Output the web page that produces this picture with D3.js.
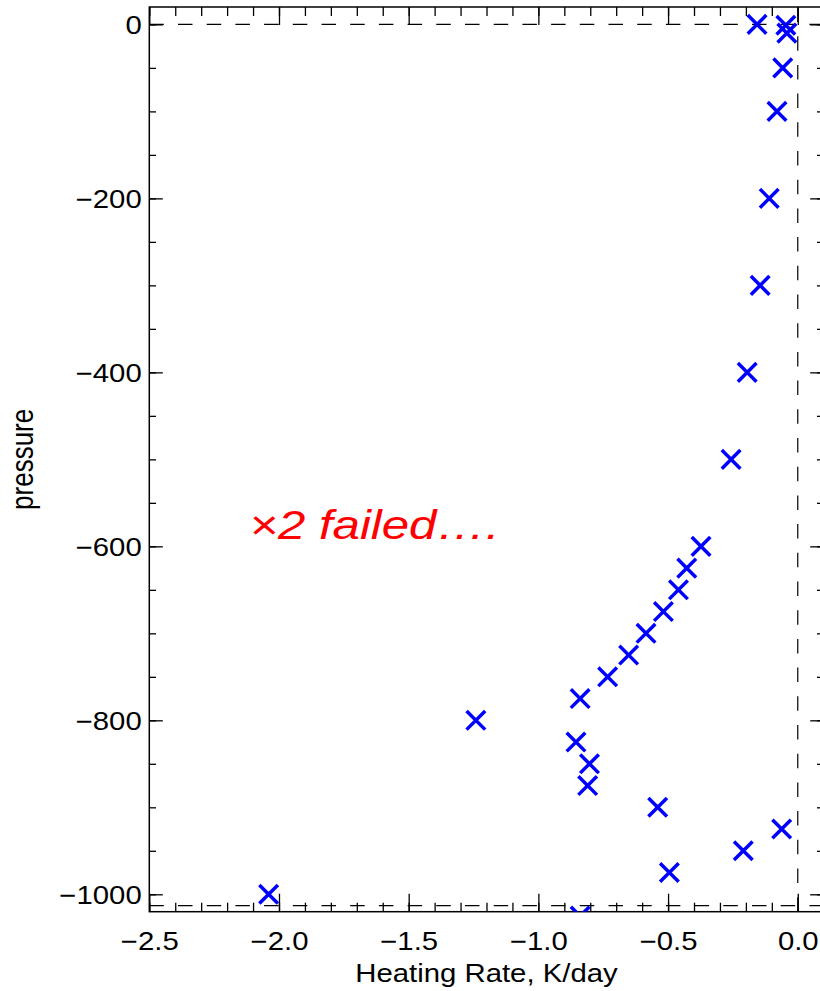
<!DOCTYPE html>
<html>
<head>
<meta charset="utf-8">
<script src="https://cdn.jsdelivr.net/npm/d3@7"></script>
<style>
  html, body { margin: 0; padding: 0; background: #fff; overflow: hidden; }
  svg { display: block; }
  text { font-family: "Liberation Sans", Arial, Helvetica, sans-serif; }
</style>
</head>
<body>
<svg id="chart" width="820" height="991"></svg>
<script>
// Heating-rate profile against pressure level
const pressure    = [0, -1, -10, -50, -100, -200, -300, -400, -500, -600, -625, -650, -675, -700, -725,
                     -750, -775, -800, -825, -850, -875, -900, -925, -950, -975, -1000, -1025];
const heatingRate = [-0.157, -0.046, -0.042, -0.058, -0.08, -0.11, -0.145, -0.195, -0.257, -0.373, -0.428, -0.46, -0.518, -0.585, -0.652,
                     -0.733, -0.839, -1.241, -0.855, -0.803, -0.81, -0.54, -0.062, -0.21, -0.495, -2.04, -0.839];

const xMajorTicks = [-2.5, -2.0, -1.5, -1.0, -0.5, 0.0];
const xMinorTicks = d3.range(-25, 1, 1).map(d => d / 10);
const yMajorTicks = [-1000, -800, -600, -400, -200, 0];
const yMinorTicks = d3.range(-1000, 1, 50);
const surfacePressure = -1013;
const annotation = "×2 failed….";

const xDomain = [-2.5, 0.1];
const yDomain = [-1020, 20];

const plotLeft = 149.3, plotTop = 7, plotW = 674.4, plotH = 904.7;
const wide = 1.15;  // horizontal stretch of the lettering
const svg = d3.select("#chart");

const x = d3.scaleLinear().domain(xDomain).range([plotLeft, plotLeft + plotW]);
const y = d3.scaleLinear().domain(yDomain).range([plotTop + plotH, plotTop]);

const fmtX = d => (d < 0 ? "\u2212" : "") + Math.abs(d).toFixed(1);
const fmtY = d => (d < 0 ? "\u2212" : "") + Math.abs(d);

const axisColor = "#000";
const majX = 18, minX = 9, majY = 13.5, minY = 6.7;

function styleAxis(g) {
  g.select(".domain").remove();
  g.selectAll(".tick line").attr("stroke", axisColor).attr("stroke-width", 1.3);
  g.selectAll(".tick text").attr("fill", "#000").style("font-size", "25.5px")
    .style("font-family", "'Liberation Sans', Arial, sans-serif");
}

// bottom axis: major with labels, minor without
svg.append("g").attr("transform", `translate(0,${plotTop + plotH})`)
  .call(d3.axisBottom(x).tickValues(xMinorTicks).tickSize(-minX).tickFormat(""))
  .call(styleAxis);
svg.append("g").attr("transform", `translate(0,${plotTop + plotH})`)
  .call(d3.axisBottom(x).tickValues(xMajorTicks).tickSize(-majX).tickFormat(fmtX))
  .call(styleAxis)
  .call(g => g.selectAll(".tick text").attr("dy", null).attr("y", 38.5)
    .attr("transform", `scale(${wide},1)`));

// top axis ticks
svg.append("g").attr("transform", `translate(0,${plotTop})`)
  .call(d3.axisTop(x).tickValues(xMinorTicks).tickSize(-minX).tickFormat(""))
  .call(styleAxis);
svg.append("g").attr("transform", `translate(0,${plotTop})`)
  .call(d3.axisTop(x).tickValues(xMajorTicks).tickSize(-majX).tickFormat(""))
  .call(styleAxis);

// left axis
svg.append("g").attr("transform", `translate(${plotLeft},0)`)
  .call(d3.axisLeft(y).tickValues(yMinorTicks).tickSize(-minY).tickFormat(""))
  .call(styleAxis);
svg.append("g").attr("transform", `translate(${plotLeft},0)`)
  .call(d3.axisLeft(y).tickValues(yMajorTicks).tickSize(-majY).tickFormat(fmtY))
  .call(styleAxis)
  .call(g => g.selectAll(".tick text").attr("x", -7.6 / wide).attr("dy", "0.36em")
    .attr("transform", `scale(${wide},1)`));

// right axis ticks
svg.append("g").attr("transform", `translate(${plotLeft + plotW},0)`)
  .call(d3.axisRight(y).tickValues(yMinorTicks).tickSize(-minY).tickFormat(""))
  .call(styleAxis);
svg.append("g").attr("transform", `translate(${plotLeft + plotW},0)`)
  .call(d3.axisRight(y).tickValues(yMajorTicks).tickSize(-majY).tickFormat(""))
  .call(styleAxis);

// plot frame
svg.append("rect")
  .attr("x", plotLeft).attr("y", plotTop).attr("width", plotW).attr("height", plotH)
  .attr("fill", "none").attr("stroke", axisColor).attr("stroke-width", 1.5);

// reference lines: zero pressure, surface pressure, zero heating
const line = d3.line().x(d => x(d[0])).y(d => y(d[1]));
const refLines = [
  [[xDomain[0], 0], [xDomain[1], 0]],
  [[xDomain[0], surfacePressure], [xDomain[1], surfacePressure]],
  [[0, yDomain[0]], [0, yDomain[1]]]
];
svg.append("g").selectAll("path").data(refLines).join("path")
  .attr("d", line)
  .attr("fill", "none")
  .attr("stroke", "#000")
  .attr("stroke-width", 1.2)
  .attr("stroke-dasharray", "14.5,14.2");

// markers, clipped to the plot window
svg.append("clipPath").attr("id", "plotClip")
  .append("rect").attr("x", plotLeft).attr("y", plotTop).attr("width", plotW).attr("height", plotH);

const points = pressure.map((p, i) => ({ p, h: heatingRate[i] }));
const r = 9.3;
svg.append("g").attr("clip-path", "url(#plotClip)")
  .selectAll("path").data(points).join("path")
  .attr("d", d => {
    const cx = x(d.h), cy = y(d.p);
    return `M${cx - r},${cy - r}L${cx + r},${cy + r}M${cx - r},${cy + r}L${cx + r},${cy - r}`;
  })
  .attr("fill", "none")
  .attr("stroke", "#0000ff")
  .attr("stroke-width", 3.5);

// axis titles
svg.append("text")
  .attr("transform", `translate(${plotLeft + plotW / 2},981.5) scale(${wide},1)`)
  .attr("text-anchor", "middle")
  .style("font-size", "25.5px")
  .text("Heating Rate, K/day");

svg.append("text")
  .attr("transform", `translate(33.3,${plotTop + plotH / 2}) rotate(-90) scale(1,1.2)`)
  .attr("text-anchor", "middle")
  .style("font-size", "26px")
  .text("pressure");

// annotation
svg.append("text")
  .attr("transform", `translate(${x(-2.115)},${y(-592)}) scale(1.2,1)`)
  .attr("fill", "#ff0000")
  .style("font-size", "41px")
  .style("font-style", "italic")
  .text(annotation);
</script>
</body>
</html>
